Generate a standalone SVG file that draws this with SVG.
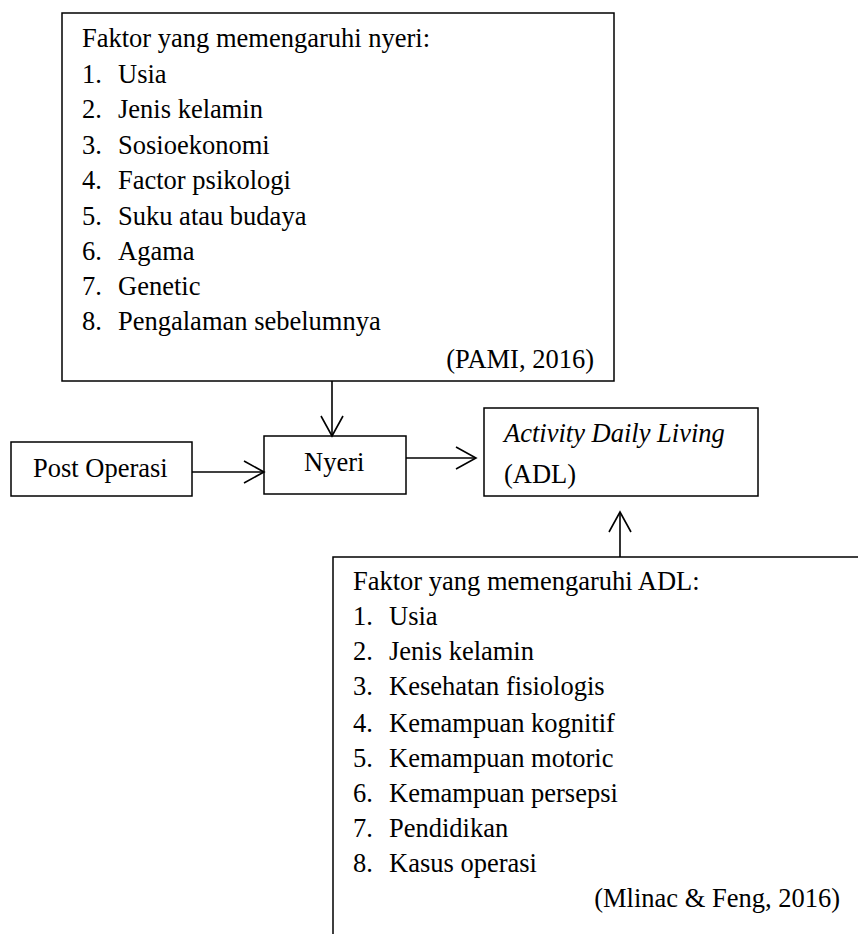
<svg xmlns="http://www.w3.org/2000/svg" width="858" height="934" viewBox="0 0 858 934">
<style>
rect.box{fill:#fff;stroke:#000;stroke-width:1.5}
text{font-family:"Liberation Serif","Times New Roman",serif;font-size:26.5px;fill:#000}
.it{font-style:italic}
.con line{stroke:#000;stroke-width:1.6;fill:none}
</style>
<defs>
<marker id="ah" markerUnits="userSpaceOnUse" viewBox="-22 -13 24 26" refX="0" refY="0" markerWidth="24" markerHeight="26" orient="auto">
<path d="M-20,-11 L0,0 L-20,11" fill="none" stroke="#000" stroke-width="1.6"/>
</marker>
</defs>
<rect width="858" height="934" fill="#fff"/>
<g id="faktor-nyeri">
<rect class="box" x="62" y="13" width="552" height="368"/>
<text x="82" y="47">Faktor yang memengaruhi nyeri:</text>
<text x="82" y="83">1.</text><text x="118" y="83">Usia</text>
<text x="82" y="118">2.</text><text x="118" y="118">Jenis kelamin</text>
<text x="82" y="154">3.</text><text x="118" y="154">Sosioekonomi</text>
<text x="82" y="189">4.</text><text x="118" y="189">Factor psikologi</text>
<text x="82" y="225">5.</text><text x="118" y="225">Suku atau budaya</text>
<text x="82" y="260">6.</text><text x="118" y="260">Agama</text>
<text x="82" y="295">7.</text><text x="118" y="295">Genetic</text>
<text x="82" y="330">8.</text><text x="118" y="330">Pengalaman sebelumnya</text>
<text x="594" y="368" text-anchor="end">(PAMI, 2016)</text>
</g>
<g id="post-operasi">
<rect class="box" x="11" y="442" width="181" height="54"/>
<text x="33" y="477">Post Operasi</text>
</g>
<g id="nyeri">
<rect class="box" x="264" y="436" width="142" height="58"/>
<text x="304" y="471">Nyeri</text>
</g>
<g id="adl">
<rect class="box" x="484" y="408" width="274" height="88"/>
<text x="504" y="442" class="it">Activity Daily Living</text>
<text x="504" y="483">(ADL)</text>
</g>
<g id="faktor-adl">
<rect class="box" x="333" y="557" width="560" height="420"/>
<text x="353" y="590">Faktor yang memengaruhi ADL:</text>
<text x="353" y="625">1.</text><text x="389" y="625">Usia</text>
<text x="353" y="660">2.</text><text x="389" y="660">Jenis kelamin</text>
<text x="353" y="695">3.</text><text x="389" y="695">Kesehatan fisiologis</text>
<text x="353" y="732">4.</text><text x="389" y="732">Kemampuan kognitif</text>
<text x="353" y="767">5.</text><text x="389" y="767">Kemampuan motoric</text>
<text x="353" y="802">6.</text><text x="389" y="802">Kemampuan persepsi</text>
<text x="353" y="837">7.</text><text x="389" y="837">Pendidikan</text>
<text x="353" y="872">8.</text><text x="389" y="872">Kasus operasi</text>
<text x="840" y="907" text-anchor="end">(Mlinac &amp; Feng, 2016)</text>
</g>
<g id="connectors" class="con">
<line x1="332" y1="381" x2="332" y2="436" marker-end="url(#ah)"/>
<line x1="192" y1="472" x2="264" y2="472" marker-end="url(#ah)"/>
<line x1="406" y1="458" x2="476" y2="458" marker-end="url(#ah)"/>
<line x1="620" y1="557" x2="620" y2="512" marker-end="url(#ah)"/>
</g>
</svg>
